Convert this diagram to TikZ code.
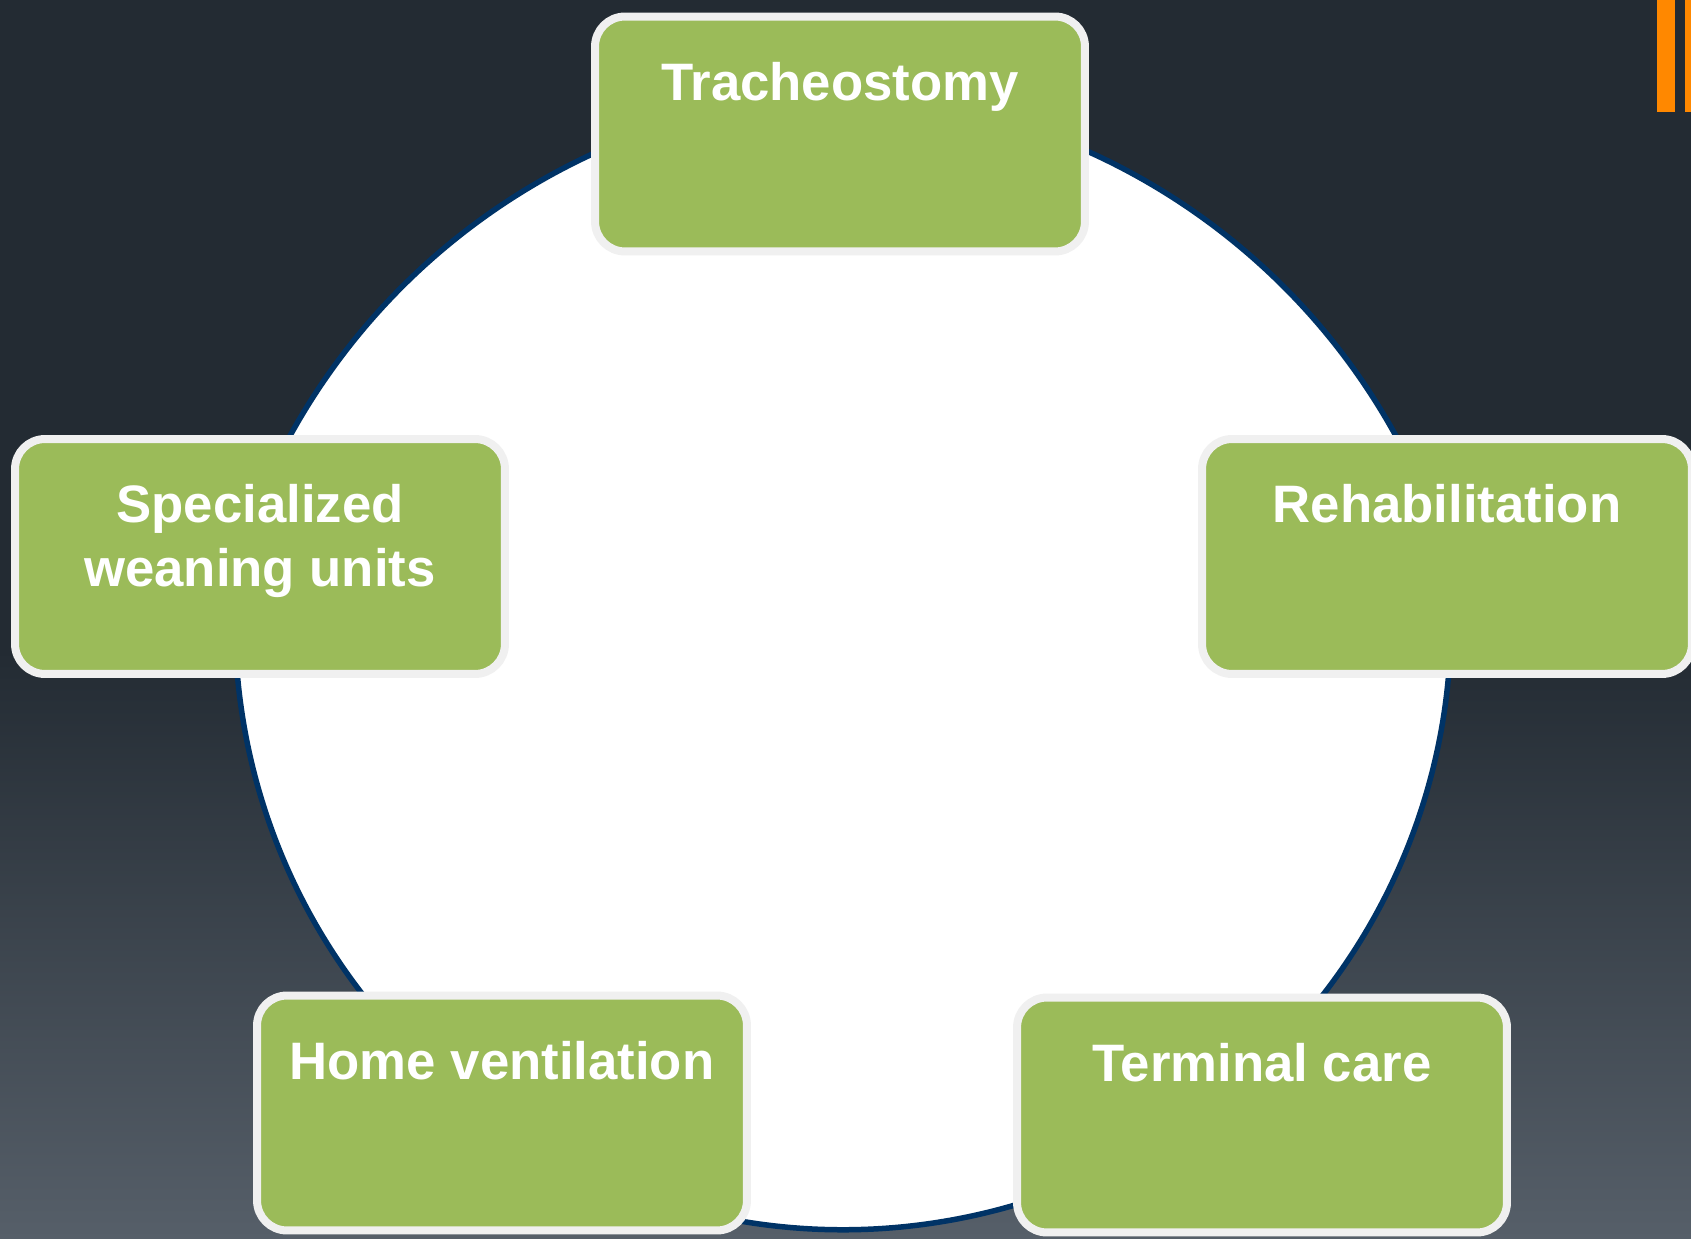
\documentclass[tikz,border=0pt]{standalone}
\usepackage{fontspec}
\setmainfont{Liberation Sans}
\usepackage{tikz}
\usetikzlibrary{positioning}

\definecolor{bgdark}{RGB}{35,43,51}
\definecolor{bglight}{RGB}{86,95,105}
\definecolor{ringblue}{RGB}{0,51,102}
\definecolor{stagegreen}{RGB}{155,187,89}
\definecolor{stageborder}{RGB}{240,240,240}
\definecolor{barorange}{RGB}{255,136,0}

\begin{document}
\begin{tikzpicture}[x=0.02cm,y=-0.02cm,
  stage/.style={draw=stageborder, fill=stagegreen, line width=0.16cm,
    rounded corners=0.6cm, minimum width=9.8cm, minimum height=4.7cm, inner sep=0pt},
  stagetext/.style={text=white, font=\bfseries\fontsize{30}{36.4}\selectfont,
    align=center, inner sep=0pt}]
\useasboundingbox (0,0) rectangle (1691,1239);

% background
\fill[bgdark] (0,0) rectangle (1691,1239);
\shade[top color=bgdark, bottom color=bglight] (0,650) rectangle (1691,1239);
\fill[barorange] (1657,0) rectangle (1675,112);
\fill[barorange] (1685,0) rectangle (1695,112);

% ring
\coordinate (ringtop) at (843,93.6);
\draw[ringblue, fill=white, line width=0.11cm] (ringtop)
  arc[start angle=87.66, end angle=17.5, radius=13.24cm]
  arc[start angle=6.24, end angle=-186.24, radius=12.16cm]
  arc[start angle=162.5, end angle=92.34, radius=13.24cm] -- cycle;

\node[stage] (trach) at (840,134) {};
\node[stage] (weaning) at (260,556.5) {};
\node[stage] (rehab) at (1447,556.5) {};
\node[stage] (home) at (502,1113) {};
\node[stage] (terminal) at (1262,1115) {};

\node[stagetext, below=0.98cm of trach.north] (trachtext) {Tracheostomy};
\node[stagetext, below=0.98cm of weaning.north] (weaningtext) {Specialized\\weaning units};
\node[stagetext, below=0.98cm of rehab.north] (rehabtext) {Rehabilitation};
\node[stagetext, below=0.98cm of home.north] (hometext) {Home ventilation};
\node[stagetext, below=0.98cm of terminal.north] (terminaltext) {Terminal care};
\end{tikzpicture}
\end{document}
